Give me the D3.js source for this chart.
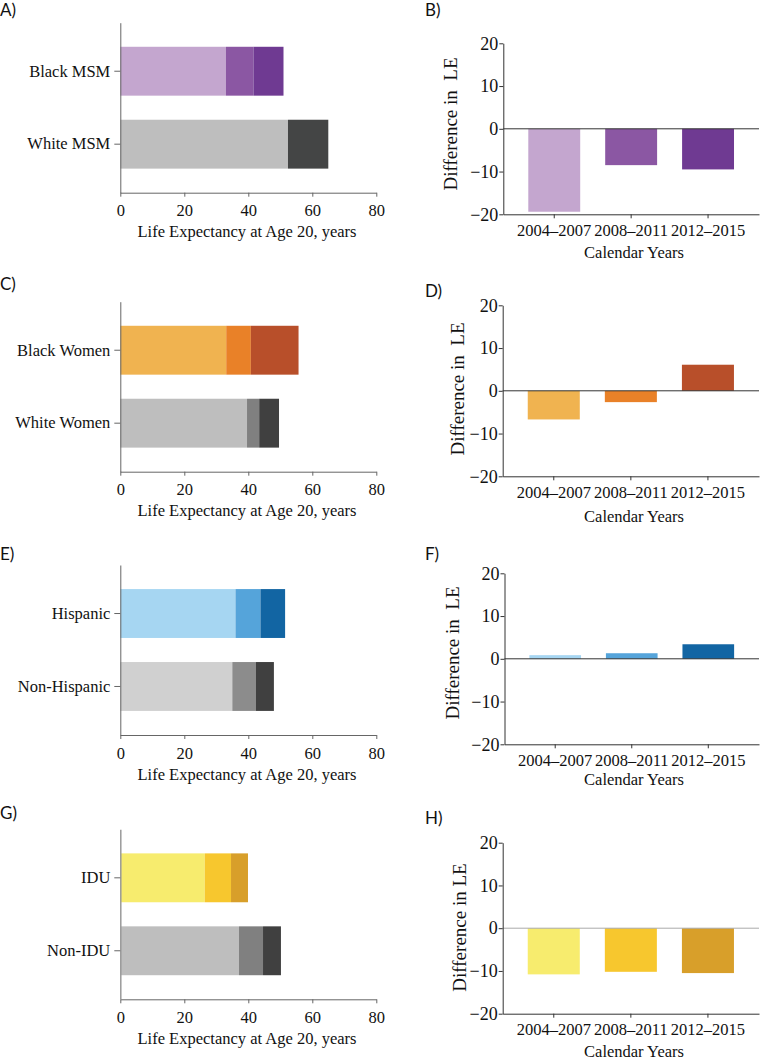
<!DOCTYPE html>
<html>
<head>
<meta charset="utf-8">
<script src="https://cdn.jsdelivr.net/npm/d3@7"></script>
<style>
  html, body { margin: 0; padding: 0; background: #fff; }
  svg { display: block; }
  .serif { font-family: "Liberation Serif", "Times New Roman", serif; fill: #111; }
  .plab { font-family: Lato, "Open Sans", sans-serif; font-size: 17px; fill: #111; }
</style>
</head>
<body>
<svg id="chart" width="761" height="1060"></svg>
<script>
// ---------------- DATA ----------------
const xTicks = [0, 20, 40, 60, 80];
const yTicks = [-20, -10, 0, 10, 20];
const periods = ["2004–2007", "2008–2011", "2012–2015"];

// Panel A / B
const groupsA = ["Black MSM", "White MSM"];
const segmentsA = [[33.0, 8.6, 9.4], [52.4, 0, 12.6]];
const colorsA = [["#c4a6cf", "#8b57a3", "#6f3a92"], ["#bebebe", "#808080", "#444545"]];
const diffB = [-19.4, -8.5, -9.5];

// Panel C / D
const groupsC = ["Black Women", "White Women"];
const segmentsC = [[33.1, 7.7, 14.9], [39.6, 3.8, 6.2]];
const colorsC = [["#f0b350", "#e98128", "#b84f2a"], ["#bebebe", "#808080", "#404040"]];
const diffD = [-6.7, -2.65, 6.1];

// Panel E / F
const groupsE = ["Hispanic", "Non-Hispanic"];
const segmentsE = [[36.0, 7.8, 7.7], [35.0, 7.3, 5.7]];
const colorsE = [["#a6d6f2", "#55a4da", "#1265a3"], ["#d0d0d0", "#8c8c8c", "#404040"]];
const diffF = [0.85, 1.3, 3.4];

// Panel G / H
const groupsG = ["IDU", "Non-IDU"];
const segmentsG = [[26.4, 8.2, 5.3], [37.1, 7.5, 5.6]];
const colorsG = [["#f7ec6e", "#f7c72e", "#d89f2a"], ["#bebebe", "#808080", "#404040"]];
const diffH = [-10.8, -10.2, -10.5];

const xTitle = "Life Expectancy at Age 20, years";
const calTitle = "Calendar Years";

// ---------------- LAYOUT ----------------
const svg = d3.select("#chart");

function leftPanel(o) {
  const x0 = 120.3, x1 = 376.3, h = 170;
  const g = svg.append("g");
  const x = d3.scaleLinear().domain([0, 80]).range([x0, x1]);
  const y = d3.scaleBand().domain(o.groups).range([o.top, o.top + h]).padding(0.33);

  o.groups.forEach((grp, i) => {
    const segs = o.segments[i];
    const ends = Array.from(d3.cumsum(segs));
    const starts = [0].concat(ends.slice(0, -1));
    g.selectAll(null).data(segs.map((v, j) => ({ s: starts[j], e: ends[j], c: o.colors[i][j] })))
      .enter().append("rect")
      .attr("x", d => x(d.s))
      .attr("width", d => Math.max(0, x(d.e) - x(d.s)))
      .attr("y", y(grp))
      .attr("height", y.bandwidth())
      .attr("fill", d => d.c);
  });

  const axisColor = o.axisColor || "#666";
  const xa = g.append("g").attr("transform", `translate(0,${o.top + h})`)
    .call(d3.axisBottom(x).tickValues(xTicks).tickSize(4).tickSizeOuter(0).tickPadding(8));
  xa.select(".domain").attr("stroke", "#666");
  xa.selectAll(".tick line").attr("stroke", "#666");
  xa.selectAll("text").attr("class", "serif").style("font-size", "16.5px").attr("fill", "#111");

  const ya = g.append("g").attr("transform", `translate(${x0},0)`)
    .call(d3.axisLeft(y).tickSize(6).tickSizeOuter(0).tickPadding(4));
  ya.select(".domain").attr("stroke", axisColor).attr("stroke-width", o.axisWidth || 1);
  ya.selectAll(".tick line").attr("stroke", "#666");
  ya.selectAll("text").attr("class", "serif").style("font-size", "16.5px").attr("fill", "#111");

  g.append("text").attr("class", "serif").style("font-size", "16.5px")
    .attr("x", 247).attr("y", o.top + h + 44.5).attr("text-anchor", "middle").text(xTitle);

  svg.append("text").attr("class", "plab").attr("x", 0).attr("y", o.labY).text(o.label);
}

function rightPanel(o) {
  const h = 171, xr = 759;
  const g = svg.append("g");
  const x = d3.scaleBand().domain(periods).range([o.ax, xr]).padding(0.325);
  const y = d3.scaleLinear().domain([-20, 20]).range([o.top + h, o.top]);

  g.selectAll(null).data(o.values).enter().append("rect")
    .attr("x", (d, i) => x(periods[i]))
    .attr("width", x.bandwidth())
    .attr("y", d => y(Math.max(0, d)))
    .attr("height", d => Math.abs(y(d) - y(0)))
    .attr("fill", (d, i) => o.colors[i]);

  g.append("line").attr("x1", o.ax).attr("x2", xr).attr("y1", y(0)).attr("y2", y(0))
    .attr("stroke", o.zeroColor || "#333").attr("stroke-width", 1);

  const xa = g.append("g").attr("transform", `translate(0,${o.top + h})`)
    .call(d3.axisBottom(x).tickSize(4).tickSizeOuter(0).tickPadding(6));
  xa.select(".domain").attr("stroke", "#333");
  xa.selectAll(".tick line").attr("stroke", "#333");
  xa.selectAll("text").attr("class", "serif").style("font-size", "16.5px").attr("fill", "#111");

  const ya = g.append("g").attr("transform", `translate(${o.ax},0)`)
    .call(d3.axisLeft(y).tickValues(yTicks).tickSize(4).tickSizeOuter(0).tickPadding(1));
  ya.select(".domain").attr("stroke", "#333");
  ya.selectAll(".tick line").attr("stroke", "#333");
  ya.selectAll("text").attr("class", "serif").style("font-size", "18px").attr("fill", "#111");

  g.append("text").attr("class", "serif").style("font-size", "16.5px")
    .attr("x", 634).attr("y", o.top + h + o.titleOff).attr("text-anchor", "middle").text(calTitle);

  g.append("text").attr("class", "serif").style("font-size", "19px")
    .attr("text-anchor", "middle")
    .attr("transform", `translate(${o.ylx},${o.yly}) rotate(-90)`)
    .style("white-space", "pre")
    .attr("xml:space", "preserve")
    .text(o.ylabel);

  svg.append("text").attr("class", "plab").attr("x", 425).attr("y", o.labY).text(o.label);
}

leftPanel({ groups: groupsA, segments: segmentsA, colors: colorsA, top: 22.7, label: "A)", labY: 16 });
leftPanel({ groups: groupsC, segments: segmentsC, colors: colorsC, top: 301.7, label: "C)", labY: 289.5 });
leftPanel({ groups: groupsE, segments: segmentsE, colors: colorsE, top: 565, label: "E)", labY: 560 });
leftPanel({ groups: groupsG, segments: segmentsG, colors: colorsG, top: 829.3, label: "G)", labY: 818.5, axisColor: "#9a9a9a", axisWidth: 1.5 });

rightPanel({ values: diffB, colors: colorsA[0], top: 43.3, ax: 503.3, label: "B)", labY: 15.5, titleOff: 44, ylx: 457, yly: 124, ylabel: "Difference in  LE" });
rightPanel({ values: diffD, colors: colorsC[0], top: 305.3, ax: 502.7, label: "D)", labY: 297, titleOff: 46, ylx: 464, yly: 389, ylabel: "Difference in  LE" });
rightPanel({ values: diffF, colors: colorsE[0], top: 573.3, ax: 504.5, label: "F)", labY: 560, titleOff: 41, ylx: 459, yly: 653, ylabel: "Difference in  LE" });
rightPanel({ values: diffH, colors: colorsG[0], top: 842.7, ax: 502.7, label: "H)", labY: 823.5, titleOff: 43, ylx: 466, yly: 927.5, ylabel: "Difference in LE", zeroColor: "#aaa" });
</script>
</body>
</html>
